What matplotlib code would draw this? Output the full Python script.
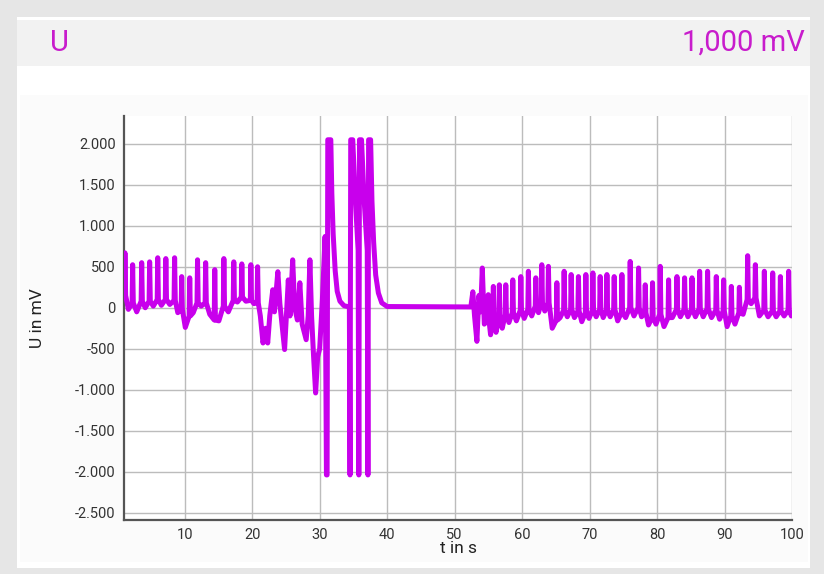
import matplotlib
matplotlib.use('Agg')
import matplotlib.pyplot as plt
from matplotlib.patches import Rectangle
from matplotlib.ticker import FuncFormatter

# regular beats before the stimulation (t in s, U in mV)
left_t = [1.14, 2.28, 3.62, 4.8, 6.0, 7.2, 8.5, 9.55, 10.74, 11.9, 13.1,
          14.45, 15.8, 17.27, 18.46, 19.8, 20.8]
left_peak = [670, 525, 550, 560, 610, 600, 610, 380, 365, 585, 550,
             465, 600, 560, 535, 525, 500]
left_base = [150, 60, 80, 80, 100, 100, 90, -20, -100, 60, 60,
             -150, 20, 90, 130, 90, 60]
left_trough = [-20, -50, 0, 20, 30, 40, -60, -240, -60, 20, -80,
               -160, -50, 70, 80, 50, -100]

# irregular part just before the shocks
irr_t = [21.6, 22.0, 22.3, 22.6, 23.05, 23.3, 23.8, 24.1, 24.8, 25.35, 25.6,
         26.0, 26.3, 26.7, 27.06, 27.4, 28.0, 28.3, 28.55, 28.8, 29.1, 29.4,
         29.7, 30.0, 30.4, 30.8]
irr_u = [-430, -250, -430, -100, 220, -50, 440, 50, -510, 340, -100,
         585, 0, -150, 305, -200, -390, -100, 585, -100, -600, -1040,
         -600, -500, 100, 870]

# stimulation pulses and the flat line after them
stim_t = [31.0, 31.1, 31.2, 31.65, 31.8, 32.0, 32.3, 32.6, 33.0, 33.6, 34.4,
          34.5, 34.6, 34.9, 35.3, 35.7, 35.8, 35.9, 36.2, 36.6, 37.05, 37.15,
          37.25, 37.55, 37.75, 38.0, 38.3, 38.7, 39.2, 40.0, 52.4]
stim_u = [-2040, -2040, 2050, 2050, 1400, 900, 450, 200, 80, 25, 10,
          -2040, 2050, 2050, 1300, 700, -2040, 2050, 2050, 1300, 700, -2040,
          2050, 2050, 1300, 800, 400, 180, 60, 15, 10]

# restart of the rhythm
rs_t = [52.7, 52.95, 53.3, 53.6, 53.85, 54.1, 54.4]
rs_u = [195, -100, -410, 150, -50, 485, -200]

# regular beats after the stimulation
right_t = [54.99, 55.74, 56.63, 57.58, 58.62, 59.81, 60.93, 62.03, 62.92, 63.9,
           65.15, 66.23, 67.27, 68.35, 69.45, 70.49, 71.57, 72.57, 73.65, 74.79,
           76.02, 77.26, 78.25, 79.33, 80.47, 81.71, 82.95, 84.08, 85.18, 86.31,
           87.49, 88.78, 89.87, 91.01, 92.2, 93.43, 94.57, 95.9, 97.14, 98.28,
           99.5]
right_peak = [160, 260, 280, 280, 340, 380, 445, 365, 525, 505,
              305, 445, 405, 380, 405, 425, 380, 405, 380, 405,
              565, 485, 280, 305, 505, 340, 380, 365, 365, 445,
              445, 380, 340, 260, 250, 635, 525, 445, 425, 380,
              445]
right_base = [-150, -150, -120, -80, -60, -30, -20, 20, 60, 60,
              -150, -30, -20, -40, -60, -30, -20, -30, -20, -60,
              0, 0, -60, -120, -80, -120, -20, -20, -20, -10,
              -10, -30, -40, -100, -60, 100, 120, -30, -40, -40,
              -30]
right_trough = [-330, -300, -250, -180, -160, -130, -100, -60, -40, -250,
                -120, -110, -120, -170, -130, -110, -120, -110, -160, -120,
                -100, -110, -210, -200, -230, -120, -110, -110, -110, -110,
                -120, -140, -230, -200, -80, 50, -100, -110, -110, -100,
                -100]

x_ticks = [10, 20, 30, 40, 50, 60, 70, 80, 90, 100]
y_ticks = [-2500, -2000, -1500, -1000, -500, 0, 500, 1000, 1500, 2000]

LINE = '#c800ec'
TEXT = '#c81ccc'


def beat_trace(times, peaks, bases, troughs):
    t, u = [], []
    for i, tb in enumerate(times):
        gap = times[i + 1] - tb if i + 1 < len(times) else 0.9
        t += [tb - 0.08, tb, tb + 0.1, tb + 0.45 * gap]
        u += [bases[i], peaks[i], bases[i], troughs[i]]
    return t, u


lt, lu = beat_trace(left_t, left_peak, left_base, left_trough)
rt, ru = beat_trace(right_t, right_peak, right_base, right_trough)
t_all = [1.0] + lt + irr_t + stim_t + rs_t + rt
u_all = [150] + lu + irr_u + stim_u + rs_u + ru

plt.rcParams['font.family'] = ['Roboto', 'DejaVu Sans']

W, H = 824, 574
fig = plt.figure(figsize=(W / 100, H / 100), dpi=100, facecolor='#e6e6e6')


def box(x0, y0, x1, y1, color):
    fig.patches.append(Rectangle((x0 / W, 1 - y1 / H), (x1 - x0) / W,
                                 (y1 - y0) / H, transform=fig.transFigure,
                                 facecolor=color, edgecolor='none', zorder=-5))


box(17, 17, 810, 568, 'white')
box(17, 20, 810, 66, '#f2f2f2')
box(20, 95, 808, 562, '#fbfbfb')

fig.text(50 / W, 1 - 43 / H, 'U', color=TEXT, fontsize=21, ha='left', va='center')
fig.text(805 / W, 1 - 43 / H, '1,000 mV', color=TEXT, fontsize=21,
         ha='right', va='center')

ax = fig.add_axes([124 / W, 1 - 520 / H, (792 - 124) / W, (520 - 116) / H])
ax.set_zorder(2)
ax.set_facecolor('white')
ax.plot(t_all, u_all, color=LINE, lw=3.6, solid_joinstyle='round',
        solid_capstyle='round', zorder=3)

ax.set_xlim(1, 100)
ax.set_ylim(-2590, 2340)
ax.set_xticks(x_ticks)
ax.set_yticks(y_ticks)
ax.yaxis.set_major_formatter(FuncFormatter(
    lambda v, p: f'{v:,.0f}'.replace(',', '.')))
ax.grid(True, color='#bcbcbc', lw=1.0, zorder=1)
for s in ['top', 'right']:
    ax.spines[s].set_visible(False)
for s in ['left', 'bottom']:
    ax.spines[s].set_color('#555555')
    ax.spines[s].set_linewidth(1.6)
ax.tick_params(length=0, pad=6, labelsize=10.5, labelcolor='#333333')
ax.set_xlabel('t in s', fontsize=12.5, color='#222222', labelpad=-1)
ax.set_ylabel('U in mV', fontsize=12.5, color='#222222')
ax.yaxis.set_label_coords(-0.118, 0.5)

fig.savefig('out.png', dpi=100, facecolor=fig.get_facecolor())
